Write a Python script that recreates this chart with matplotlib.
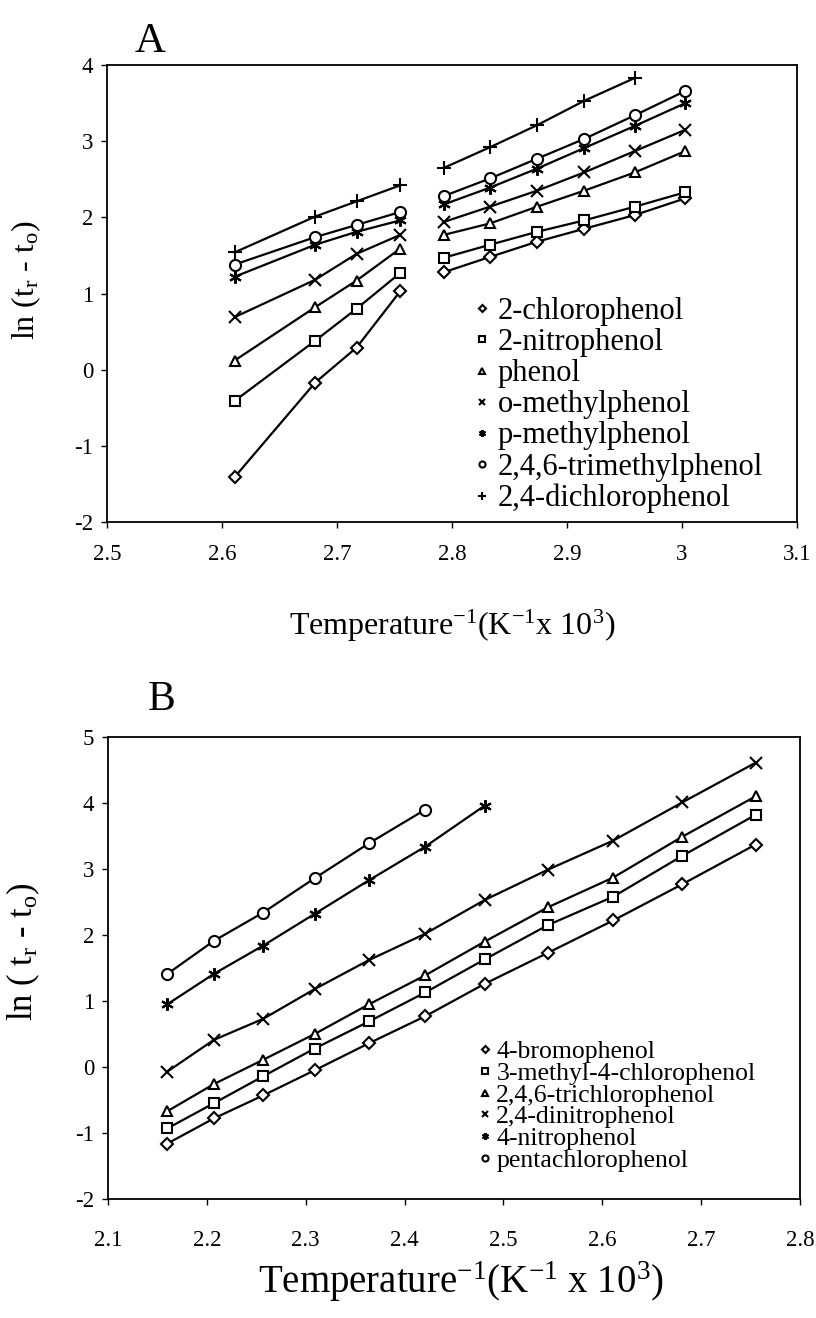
import matplotlib
matplotlib.use("Agg")
import matplotlib.pyplot as plt

plt.rcParams['font.family'] = ['Liberation Serif', 'DejaVu Serif']
plt.rcParams['mathtext.fontset'] = 'custom'
plt.rcParams['mathtext.rm'] = 'Liberation Serif'
plt.rcParams['mathtext.it'] = 'Liberation Serif:italic'
plt.rcParams['axes.unicode_minus'] = False

# ---- Panel A data: 1/T (K^-1 x 10^3) and ln(tr - t0), two temperature programs ----
xa_hot = [2.611, 2.681, 2.717, 2.755]
xa_cold = [2.793, 2.833, 2.874, 2.915, 2.959, 3.003]

a_names = ['2-chlorophenol', '2-nitrophenol', 'phenol', 'o-methylphenol',
           'p-methylphenol', '2,4,6-trimethylphenol', '2,4-dichlorophenol']
a_hot = [
    [-1.41, -0.17, 0.29, 1.03],
    [-0.41, 0.38, 0.80, 1.27],
    [0.12, 0.82, 1.17, 1.59],
    [0.69, 1.18, 1.52, 1.77],
    [1.22, 1.64, 1.81, 1.96],
    [1.38, 1.74, 1.90, 2.07],
    [1.54, 2.01, 2.21, 2.42],
]
a_cold = [
    [1.28, 1.48, 1.68, 1.85, 2.03, 2.25],
    [1.47, 1.64, 1.81, 1.96, 2.14, 2.33],
    [1.77, 1.92, 2.14, 2.35, 2.59, 2.87],
    [1.94, 2.14, 2.35, 2.59, 2.87, 3.15],
    [2.17, 2.39, 2.64, 2.91, 3.20, 3.50],
    [2.28, 2.51, 2.77, 3.03, 3.34, 3.66],
    [2.65, 2.92, 3.21, 3.53, 3.83],
]

# ---- Panel B data ----
xb = [2.160, 2.207, 2.257, 2.309, 2.364, 2.421, 2.481, 2.545, 2.611, 2.681, 2.755]
b_names = ['4-bromophenol', '3-methyl-4-chlorophenol', '2,4,6-trichlorophenol',
           '2,4-dinitrophenol', '4-nitrophenol', 'pentachlorophenol']
b_vals = [
    [-1.16, -0.78, -0.43, -0.05, 0.36, 0.77, 1.26, 1.73, 2.22, 2.77, 3.37],
    [-0.93, -0.55, -0.14, 0.28, 0.69, 1.13, 1.63, 2.15, 2.58, 3.20, 3.82],
    [-0.67, -0.26, 0.11, 0.50, 0.95, 1.39, 1.90, 2.42, 2.87, 3.49, 4.10],
    [-0.07, 0.41, 0.73, 1.18, 1.62, 2.02, 2.53, 2.99, 3.43, 4.01, 4.61],
    [0.95, 1.41, 1.84, 2.32, 2.83, 3.34, 3.96],
    [1.41, 1.91, 2.34, 2.86, 3.39, 3.90],
]

star = (6, 2, 0)
a_markers = ['D', 's', '^', 'x', star, 'o', '+']
a_sizes = [6.5, 7.5, 7.5, 9, 9, 8, 10]
b_markers = ['D', 's', '^', 'x', star, 'o']
b_sizes = [6.5, 7.5, 7.5, 9, 9, 8]

fig = plt.figure(figsize=(8.16, 13.18), dpi=100)
W, H = 816, 1318


def px_axes(l, t, r, b):
    return fig.add_axes([l / W, 1 - b / H, (r - l) / W, (b - t) / H])


def style(ax, xlim, ylim, xticks, yticks, fs):
    ax.set_xlim(*xlim)
    ax.set_ylim(*ylim)
    ax.set_xticks(xticks)
    ax.set_yticks(yticks)
    for s in ax.spines.values():
        s.set_linewidth(1.3)
    ax.tick_params(direction='out', length=4, width=1, labelsize=fs)


# ---- Panel A ----
axA = px_axes(107, 65, 797, 522)
handles = []
for i, name in enumerate(a_names):
    kw = dict(color='black', lw=1.6, marker=a_markers[i], ms=a_sizes[i],
              mfc='white', mec='black', mew=1.5)
    h, = axA.plot(xa_hot, a_hot[i], label=name, **kw)
    axA.plot(xa_cold[:len(a_cold[i])], a_cold[i], **kw)
    handles.append(h)
style(axA, (2.5, 3.1), (-2, 4), [2.5, 2.6, 2.7, 2.8, 2.9, 3.0, 3.1],
      range(-2, 5), 16.5)
axA.set_xticklabels(['2.5', '2.6', '2.7', '2.8', '2.9', '3', '3.1'])
axA.tick_params(axis='x', pad=12)
axA.tick_params(axis='y', pad=6)
axA.set_xlabel(r'Temperature$^{-1}$(K$^{-1}$x 10$^{3}$)', fontsize=23)
axA.xaxis.set_label_coords(0.5, -0.187)
axA.set_ylabel(r'ln (t$_{\rm r}$ - t$_{\rm o}$)', fontsize=23)
axA.yaxis.set_label_coords(-0.093, 0.53)
legA = axA.legend(handles=handles, loc='upper left', bbox_to_anchor=(0.535, 0.4925),
                  frameon=False, fontsize=22, markerscale=0.55, handlelength=0.4,
                  handletextpad=0.3, labelspacing=0.07, borderpad=0, borderaxespad=0)
for lh in legA.legend_handles:
    lh.set_linestyle('none')
fig.text(150 / W, 1 - 42 / H, 'A', fontsize=31, ha='center', va='center')

# ---- Panel B ----
axB = px_axes(108, 737, 800, 1199)
handles = []
for i, name in enumerate(b_names):
    h, = axB.plot(xb[:len(b_vals[i])], b_vals[i], color='black', lw=1.6,
                  marker=b_markers[i], ms=b_sizes[i], mfc='white', mec='black',
                  mew=1.5, label=name)
    handles.append(h)
style(axB, (2.1, 2.8), (-2, 5), [2.1, 2.2, 2.3, 2.4, 2.5, 2.6, 2.7, 2.8],
      range(-2, 6), 16.5)
axB.tick_params(axis='x', pad=18)
axB.tick_params(axis='y', pad=6)
axB.set_xlabel(r'Temperature$^{-1}$(K$^{-1}$ x 10$^{3}$)', fontsize=28)
axB.xaxis.set_label_coords(0.51, -0.13)
axB.set_ylabel(r'ln ( t$_{\rm r}$ - t$_{\rm o}$)', fontsize=25)
axB.yaxis.set_label_coords(-0.095, 0.535)
legB = axB.legend(handles=handles, loc='upper left', bbox_to_anchor=(0.537, 0.345),
                  frameon=False, fontsize=18.5, markerscale=0.55, handlelength=0.4,
                  handletextpad=0.25, labelspacing=-0.04, borderpad=0, borderaxespad=0)
for lh in legB.legend_handles:
    lh.set_linestyle('none')
fig.text(162 / W, 1 - 700 / H, 'B', fontsize=30, ha='center', va='center')

fig.savefig('out.png', dpi=100)
